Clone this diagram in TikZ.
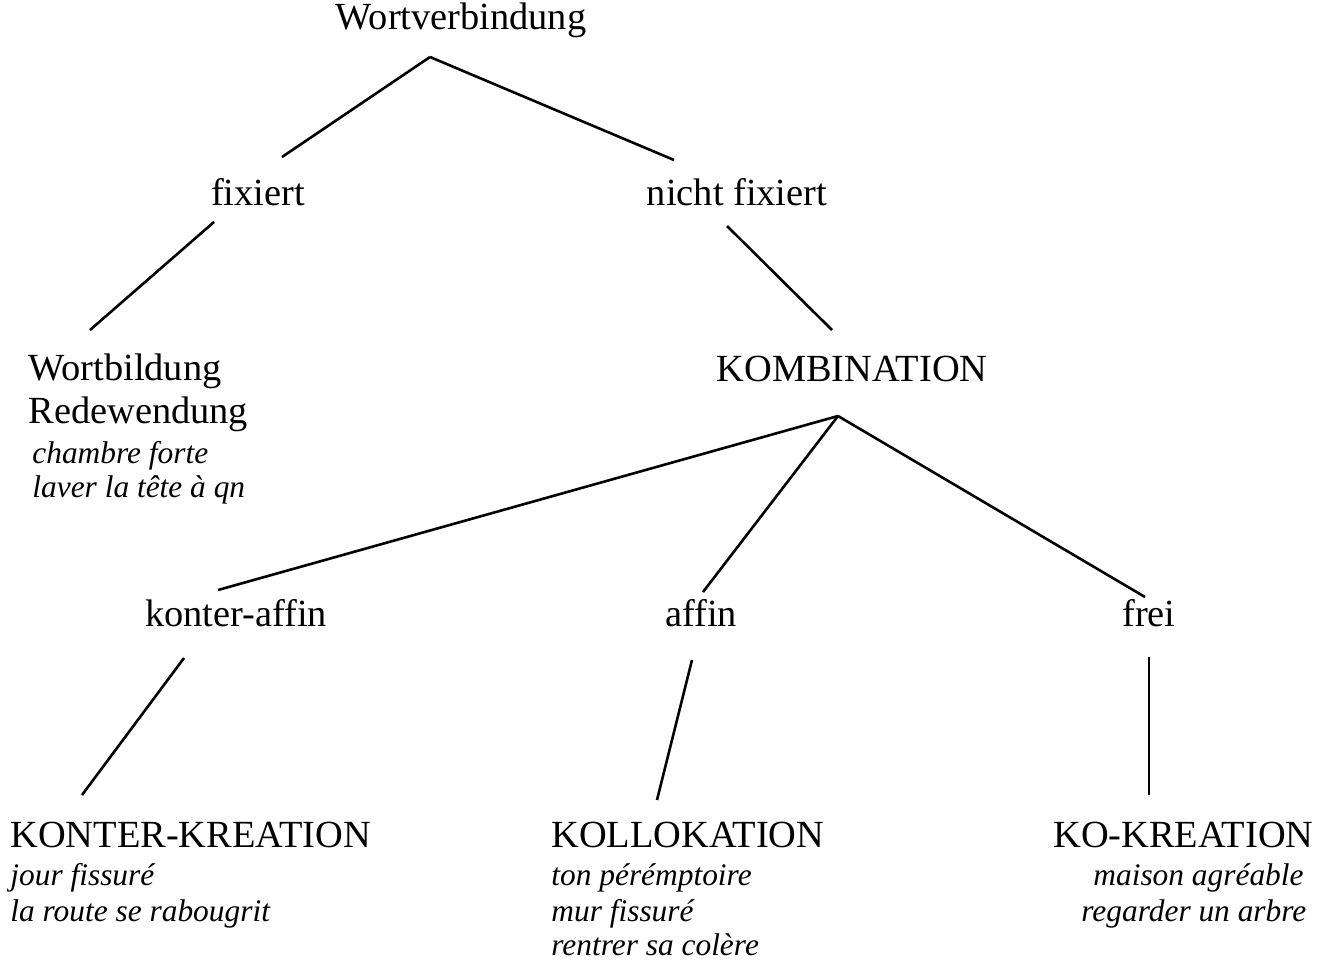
\documentclass[tikz,border=0pt]{standalone}
\usepackage{fontspec}
\setmainfont{Liberation Serif}
\usetikzlibrary{positioning,calc}

\begin{document}
\begin{tikzpicture}[
    x=0.5pt, y=-0.5pt,
    term/.style={inner sep=0pt, font=\fontsize{19.2}{22}\selectfont},
    beispiel/.style={inner sep=0pt, font=\fontsize{15.7}{19}\selectfont\itshape, anchor=base west},
    ast/.style={line width=1.3pt}
]
    \useasboundingbox (0,0) rectangle (1321,959);
    % obere Ebene
    \node [term, anchor=base] (wort) at (461,29) {Wortverbindung};
    \node [term, anchor=base] (fix) at (258,205) {fixiert};
    \node [term, anchor=base] (nfix) at (737,205) {nicht fixiert};
    \node [term, anchor=base west] (wortb) at (28,380) {Wortbildung};
    \node [term, anchor=base west] (redew) at (28,423) {Redewendung};
    \node [beispiel] (bsp1) at (32,463) {chambre forte};
    \node [beispiel] (bsp2) at (32,497) {laver la tête à qn};
    \node [term, anchor=base] (komb) at (852,381) {KOMBINATION};
    % mittlere Ebene
    \node [term, anchor=base] (konter) at (236,626) {konter-affin};
    \node [term, anchor=base] (affin) at (701,626) {affin};
    \node [term, anchor=base] (frei) at (1149,626) {frei};
    % untere Ebene
    \node [term, anchor=base west] (kk) at (10,847) {KONTER-KREATION};
    \node [beispiel] (kk1) at (10,885) {jour fissuré};
    \node [beispiel] (kk2) at (10,921) {la route se rabougrit};
    \node [term, anchor=base west] (koll) at (551,847) {KOLLOKATION};
    \node [beispiel] (koll1) at (551,885) {ton pérémptoire};
    \node [beispiel] (koll2) at (551,921) {mur fissuré};
    \node [beispiel] (koll3) at (551,955) {rentrer sa colère};
    \node [term, anchor=base west] (kok) at (1053,847) {KO-KREATION};
    \node [beispiel] (kok1) at (1093,885) {maison agréable};
    \node [beispiel] (kok2) at (1081,921) {regarder un arbre};

    \draw [ast] ([shift={(-31,28)}]wort.base) -- ([shift={(24,-48)}]fix.base);
    \draw [ast] ([shift={(-31,28)}]wort.base) -- ([shift={(-63,-45)}]nfix.base);
    \draw [ast] ([shift={(-44,17)}]fix.base) -- ([shift={(62,-50)}]wortb.base west);
    \draw [ast] ([shift={(-10,21)}]nfix.base) -- ([shift={(-20,-51)}]komb.base);
    \draw [ast] ([shift={(-14,35)}]komb.base) -- ([shift={(-18,-36)}]konter.base);
    \draw [ast] ([shift={(-14,35)}]komb.base) -- ([shift={(2,-34)}]affin.base);
    \draw [ast] ([shift={(-14,35)}]komb.base) -- ([shift={(-4,-29)}]frei.base);
    \draw [ast] ([shift={(-52,32)}]konter.base) -- ([shift={(72,-52)}]kk.base west);
    \draw [ast] ([shift={(-9,34)}]affin.base) -- ([shift={(106,-47)}]koll.base west);
    \draw [ast] ([shift={(0,31)}]frei.base) -- ([shift={(96,-52)}]kok.base west);
\end{tikzpicture}
\end{document}
